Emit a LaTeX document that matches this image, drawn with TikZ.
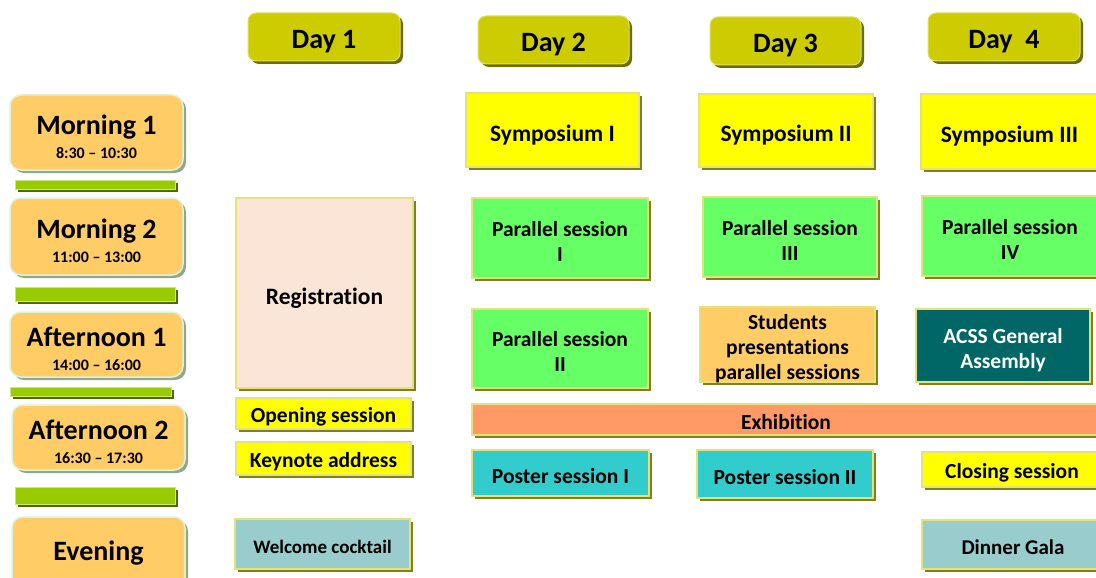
\documentclass[tikz,border=0pt]{standalone}
\usepackage{fontspec}
\setmainfont{Carlito}[Ligatures=NoCommon]
\usetikzlibrary{shadows}
\definecolor{timecol}{HTML}{FFCC66}
\definecolor{timeshad}{HTML}{8FA68F}
\definecolor{timebord}{HTML}{DDF2D8}
\definecolor{barcol}{HTML}{99CC00}
\definecolor{barshad}{HTML}{4F6B00}
\definecolor{daycol}{HTML}{CCCC00}
\definecolor{dayshad}{HTML}{6E6E00}
\definecolor{boxbord}{HTML}{E3E37A}
\definecolor{boxshad}{HTML}{808020}
\definecolor{symcol}{HTML}{FFFF00}
\definecolor{parcol}{HTML}{66FF66}
\definecolor{studcol}{HTML}{FFCC66}
\definecolor{acsscol}{HTML}{006666}
\definecolor{exhcol}{HTML}{FF9966}
\definecolor{postcol}{HTML}{33CCCC}
\definecolor{galacol}{HTML}{99CCCC}
\definecolor{regcol}{HTML}{FBE5D6}
\tikzset{
  evbox/.style={draw=boxbord, line width=1.2pt, inner sep=0pt,
    general shadow={fill=boxshad, shadow xshift=3pt, shadow yshift=-3pt}},
  timebox/.style={draw=timebord, line width=1.5pt, fill=timecol, rounded corners=11pt, inner sep=0pt,
    general shadow={fill=timeshad, shadow xshift=3pt, shadow yshift=-3pt}},
  gbar/.style={draw=barcol!50!white, line width=0.8pt, fill=barcol, inner sep=0pt,
    general shadow={fill=barshad, shadow xshift=2.5pt, shadow yshift=-2.5pt}},
  daybox/.style={draw=daycol!60!white, line width=1pt, fill=daycol, rounded corners=8pt, inner sep=0pt,
    general shadow={fill=dayshad, shadow xshift=3pt, shadow yshift=-3pt}},
  txt/.style={inner sep=0pt, align=center, yshift=-3pt, font=\bfseries\fontsize{21.5}{25}\selectfont},
  bigtxt/.style={txt, yshift=-2pt, font=\bfseries\fontsize{23.5}{27}\selectfont},
  timetxt/.style={inner sep=0pt, align=center, yshift=-4pt, font=\bfseries\fontsize{28}{30}\selectfont},
  daytxt/.style={inner sep=0pt, yshift=-5pt, font=\bfseries\fontsize{28}{30}\selectfont},
  hours/.style={font=\bfseries\fontsize{16}{18}\selectfont}
}
% name, x1, y1, x2, y2, box style, text style, text
\newcommand\bx[8]{%
  \node[#6, minimum width={#4-#2}, minimum height={#5-#3}] (#1) at ({(#2+#4)/2},{(#3+#5)/2}) {};
  \node[#7] (#1-t) at (#1.center) {#8};}
\begin{document}
\begin{tikzpicture}[x=1pt,y=-1pt]
\useasboundingbox (0,0) rectangle (1096,578);
\begin{scope}
\clip (0,0) rectangle (1096,578);
% time slots
\bx{m1}{10}{95}{183}{170}{timebox}{timetxt}{Morning 1\\[-6pt]{\fontsize{16}{18}\selectfont 8:30 -- 10:30}}
\bx{m2}{10}{198}{183}{275}{timebox}{timetxt}{Morning 2\\[-6pt]{\fontsize{16}{18}\selectfont 11:00 -- 13:00}}
\bx{a1}{10}{312}{183}{377}{timebox}{timetxt}{Afternoon 1\\[-6pt]{\fontsize{16}{18}\selectfont 14:00 -- 16:00}}
\bx{a2}{12}{405}{185}{470}{timebox}{timetxt}{Afternoon 2\\[-6pt]{\fontsize{16}{18}\selectfont 16:30 -- 17:30}}
\node[timebox, minimum width=173, minimum height=75] (ev) at (98.5,554.5) {};
\node[timetxt] (ev-t) at (98.5,549.5) {Evening};
% green separators
\bx{g1}{15}{180}{175}{189}{gbar}{}{}
\bx{g2}{15}{287}{175}{301}{gbar}{}{}
\bx{g3}{10}{387}{171}{396}{gbar}{}{}
\bx{g4}{15}{487}{175}{504}{gbar}{}{}
% day headers
\bx{d1}{248}{13}{400}{61}{daybox}{daytxt}{Day 1}
\bx{d2}{478}{16}{629}{64}{daybox}{daytxt}{Day 2}
\bx{d3}{710}{17}{861}{65}{daybox}{daytxt}{Day 3}
\bx{d4}{928}{13}{1080}{61}{daybox}{daytxt}{Day\ \ 4}
% day 1
\bx{reg}{236}{198}{413}{388}{evbox,fill=regcol}{bigtxt}{Registration}
\bx{open}{236}{398}{411}{429}{evbox,fill=symcol}{txt}{Opening session}
\bx{key}{236}{442}{411}{475}{evbox,fill=symcol}{txt}{Keynote address}
\bx{wel}{235}{519}{410}{569}{evbox,fill=galacol}{txt,font=\bfseries\fontsize{19}{22}\selectfont}{Welcome cocktail}
% day 2
\bx{sym1}{466}{93}{639}{167}{evbox,fill=symcol}{bigtxt}{Symposium I}
\bx{par1}{472}{198}{648}{278}{evbox,fill=parcol}{txt}{Parallel session\\I}
\bx{par2}{472}{309}{648}{388}{evbox,fill=parcol}{txt}{Parallel session\\II}
\bx{post1}{472}{450}{649}{496}{evbox,fill=postcol}{txt}{Poster session I}
% day 3
\bx{sym2}{699}{94}{873}{167}{evbox,fill=symcol}{bigtxt}{Symposium II}
\bx{par3}{703}{197}{877}{277}{evbox,fill=parcol}{txt}{Parallel session\\III}
\bx{stud}{700}{307}{875}{382}{evbox,fill=studcol}{txt,yshift=-1pt}{Students\\presentations\\parallel sessions}
\bx{post2}{697}{450}{873}{498}{evbox,fill=postcol}{txt}{Poster session II}
% day 4
\bx{sym3}{921}{94}{1100}{169}{evbox,fill=symcol}{bigtxt,xshift=-1pt}{Symposium III}
\bx{par4}{922}{196}{1100}{276}{evbox,fill=parcol}{txt,xshift=-1pt}{Parallel session\\IV}
\bx{acss}{916}{309}{1090}{382}{evbox,fill=acsscol}{txt,text=white,yshift=-2pt}{ACSS General\\Assembly}
\bx{clos}{922}{452}{1100}{487}{evbox,fill=symcol}{txt,xshift=1pt}{Closing session}
\bx{gala}{922}{520}{1100}{569}{evbox,fill=galacol}{txt,font=\bfseries\fontsize{21}{24}\selectfont,xshift=2pt}{Dinner Gala}
% exhibition
\node[evbox, fill=exhcol, minimum width=628, minimum height=31] (exh) at (786,419.5) {};
\node[txt] (exh-t) at (786,419.5) {Exhibition};
\end{scope}
\end{tikzpicture}
\end{document}
